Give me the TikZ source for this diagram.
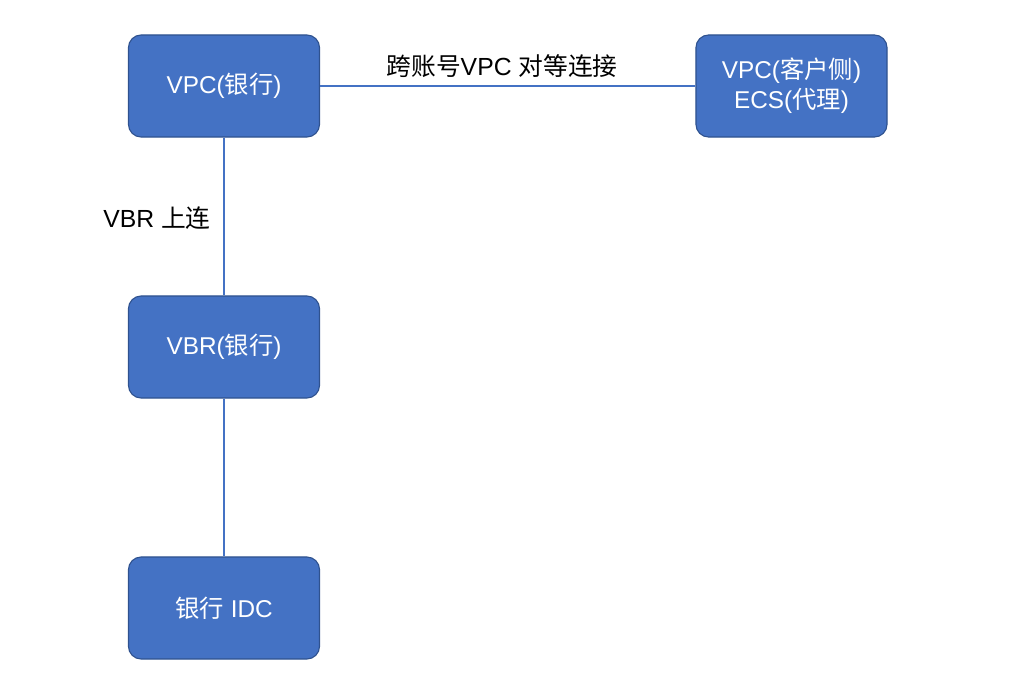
\documentclass[tikz,border=0pt]{standalone}
\usepackage{fontspec}
\setmainfont{Liberation Sans}
\newfontfamily\cjk{Noto Sans CJK SC}
\usetikzlibrary{positioning}
\definecolor{boxblue}{HTML}{4472C4}
\definecolor{boxedge}{HTML}{2F528F}
\tikzset{
  netbox/.style={rectangle, rounded corners=9pt, draw=boxedge, fill=boxblue, line width=0.8pt,
    minimum width=4.775cm, minimum height=2.55cm, align=center, text=white,
    font=\fontsize{17.3}{21.5}\selectfont},
  link/.style={draw=boxblue, line width=1pt},
  llab/.style={font=\fontsize{17.6}{21}\selectfont, inner sep=2pt}
}

\begin{document}
\begin{tikzpicture}[x=0.025cm, y=-0.025cm]
	\useasboundingbox (0,0) rectangle (1012,690);
	\node[netbox] (vpcb) at (224,86) {VPC({\cjk 银行})};
	\node[netbox] (ecs) at (791.5,86) {VPC({\cjk 客户侧})\\ECS({\cjk 代理})};
	\node[netbox] (vbr) at (224,347) {VBR({\cjk 银行})};
	\node[netbox] (idc) at (224,608) {{\cjk 银行} IDC};
	\draw[link] (vpcb) -- (ecs);
	\draw[link] (vpcb) -- (vbr);
	\draw[link] (vbr) -- (idc);
	\node[llab] (peer) at (502,66) {{\cjk 跨账号}VPC {\cjk 对等连接}};
	\node[llab] (up) at (157,218) {VBR {\cjk 上连}};
\end{tikzpicture}
\end{document}
